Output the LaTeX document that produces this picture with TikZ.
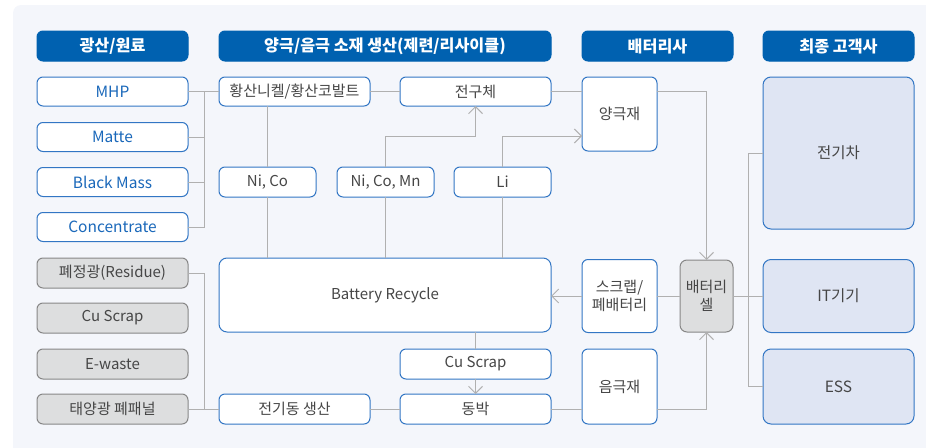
\documentclass[tikz,border=0pt]{standalone}
\usepackage{fontspec}
\setmainfont{Noto Sans CJK KR}
\usetikzlibrary{arrows.meta}
\definecolor{hdr}{RGB}{0,97,176}
\definecolor{bblue}{RGB}{50,118,196}
\definecolor{tblue}{RGB}{26,104,186}
\definecolor{tdark}{RGB}{70,70,70}
\definecolor{gfill}{RGB}{221,222,223}
\definecolor{gline}{RGB}{135,135,135}
\definecolor{cfill}{RGB}{223,229,243}
\definecolor{panel}{RGB}{244,246,251}
\definecolor{conn}{RGB}{176,176,176}
\tikzset{
  base/.style={rounded corners=6pt, inner sep=0pt, outer sep=0pt, line width=1pt, font=\fontsize{15}{17.5}\selectfont, align=center},
  hdrbox/.style={base, fill=hdr, draw=hdr, text=white, minimum height=30pt, minimum width=151pt, font=\fontsize{16.2}{18}\selectfont\bfseries},
  srcbox/.style={base, fill=white, draw=bblue, text=tblue, minimum height=29pt, minimum width=151pt, font=\fontsize{15.5}{18}\selectfont},
  greybox/.style={base, fill=gfill, draw=gline, text=tdark, minimum height=30pt, minimum width=151pt},
  wbox/.style={base, fill=white, draw=bblue, text=tdark},
  custbox/.style={base, fill=cfill, draw=bblue, text=tdark, rounded corners=8pt, minimum width=151pt, font=\fontsize{15.5}{18}\selectfont},
  cellbox/.style={base, fill=gfill, draw=gline, text=tdark, rounded corners=7pt},
  conline/.style={draw=conn, line width=1pt},
  arr/.style={conline, -{Straight Barb[length=7pt,width=14pt,line width=1pt]}},
}
\begin{document}
\begin{tikzpicture}[x=1pt,y=-1pt]
\useasboundingbox (0,0) rectangle (926,447);
\fill[panel, rounded corners=8pt] (13,5) rectangle (945,465);
% headers
\node[hdrbox] (h1) at (112.5,46) {광산/원료};
\node[hdrbox, minimum width=332pt] (h2) at (385,46) {양극/음극 소재 생산(제련/리사이클)};
\node[hdrbox] (h3) at (657.5,46) {배터리사};
\node[hdrbox] (h4) at (838.5,46) {최종 고객사};
% column 1
\node[srcbox] (mhp) at (112.5,91.5) {MHP};
\node[srcbox] (matte) at (112.5,137) {Matte};
\node[srcbox] (bm) at (112.5,182) {Black Mass};
\node[srcbox] (conc) at (112.5,227) {Concentrate};
\node[greybox] (res) at (112.5,273) {폐정광(Residue)};
\node[greybox] (cus1) at (112.5,318) {Cu Scrap};
\node[greybox] (ew) at (112.5,364) {E-waste};
\node[greybox] (solar) at (112.5,409) {태양광 폐패널};
% column 2
\node[wbox, minimum width=151pt, minimum height=29pt] (hw) at (294.5,91.5) {황산니켈/황산코발트};
\node[wbox, minimum width=151pt, minimum height=29pt] (pre) at (475.5,91.5) {전구체};
\node[wbox, minimum width=97pt, minimum height=30pt] (nico) at (267.5,182) {Ni, Co};
\node[wbox, minimum width=97pt, minimum height=30pt] (ncm) at (385.5,182) {Ni, Co, Mn};
\node[wbox, minimum width=97pt, minimum height=30pt] (li) at (502.5,182) {Li};
\node[wbox, minimum width=332pt, minimum height=74pt, rounded corners=8pt] (rec) at (385,295) {Battery Recycle};
\node[wbox, minimum width=151pt, minimum height=30pt] (cus2) at (475.5,364) {Cu Scrap};
\node[wbox, minimum width=151pt, minimum height=30pt] (foil) at (475.5,409) {동박};
\node[wbox, minimum width=151pt, minimum height=30pt] (ecu) at (294.5,409) {전기동 생산};
% column 3
\node[wbox, minimum width=75pt, minimum height=74pt] (cath) at (619.5,114) {양극재};
\node[wbox, minimum width=75pt, minimum height=73pt] (scrap) at (619.5,296) {스크랩/\\폐배터리};
\node[wbox, minimum width=75pt, minimum height=75pt] (anode) at (619.5,386.5) {음극재};
\node[cellbox, minimum width=53pt, minimum height=72pt] (cell) at (706.5,296) {배터리\\셀};
% column 4
\node[custbox, minimum height=152pt] (ev) at (838.5,153) {전기차};
\node[custbox, minimum height=73pt] (it) at (838.5,296) {IT기기};
\node[custbox, minimum height=75pt] (ess) at (838.5,386.5) {ESS};
% bus coordinates
\coordinate (busA) at (204,91.5);
\coordinate (busB) at (204,409);
\coordinate (t1) at (385.5,136);
\coordinate (t2) at (582,136);
\coordinate (busTop) at (748,153);
\coordinate (busBot) at (748,386.5);
% connectors column 1
\draw[conline] (mhp.east) -- (hw.west);
\draw[conline] (conc.east) -| (busA);
\draw[conline] (matte.east) -- (matte.east -| busA);
\draw[conline] (bm.east) -- (bm.east -| busA);
\draw[conline] (res.east) -| (busB);
\draw[conline] (solar.east) -- (ecu.west);
% column 2
\draw[conline] (hw.east) -- (pre.west);
\draw[conline] (hw.south -| nico.north) -- (nico.north);
\draw[conline] (nico.south) -- (nico.south |- rec.north);
\draw[conline] (ncm.south) -- (ncm.south |- rec.north);
\draw[arr] (ncm.north) -- (t1) -| (pre.south);
\draw[conline] (li.south) -- (li.south |- rec.north);
\draw[arr] (li.north) |- (t2);
\draw[conline] (rec.south -| cus2.north) -- (cus2.north);
\draw[arr] (cus2.south) -- (foil.north);
\draw[conline] (ecu.east) -- (foil.west);
\draw[conline] (foil.east) -- (foil.east -| anode.west);
% column 3
\draw[conline] (pre.east) -- (pre.east -| cath.west);
\draw[arr] (pre.east -| cath.east) -| (cell.north);
\draw[arr] (foil.east -| anode.east) -| (cell.south);
\draw[arr] (scrap.west) -- (scrap.west -| rec.east);
\draw[conline] (cell.west) -- (scrap.east);
% column 4
\draw[conline] (ev.west) -- (busTop) -- (busBot) -- (ess.west);
\draw[conline] (cell.east) -- (it.west);
\end{tikzpicture}
\end{document}
